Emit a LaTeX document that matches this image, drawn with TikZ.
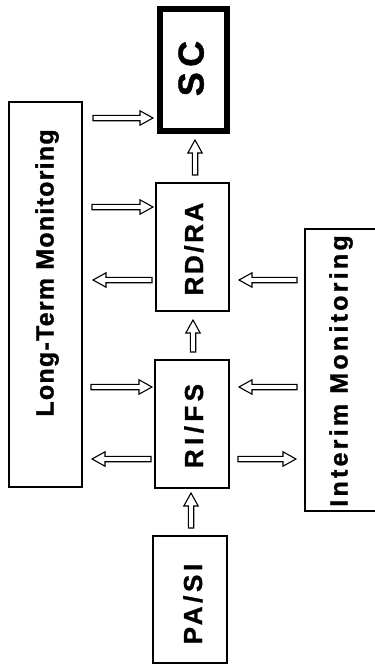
\documentclass[tikz,border=0pt]{standalone}
\usepackage{fontspec}
\setmainfont{Liberation Sans}
\usetikzlibrary{calc}
\newcommand\lsp[1]{\addfontfeatures{LetterSpace=#1,FakeBold=1.2}}
\tikzset{
  box/.style={draw, line width=1.2pt, inner sep=0pt, outer sep=0pt,
    minimum width=73pt, minimum height=128pt},
  lbl/.style={rotate=90, anchor=base, inner sep=0pt,
    font=\bfseries\fontsize{26}{26}\selectfont},
  harrow/.style={draw, line width=1.1pt, line join=miter,
    to path={let \p1=(\tikztostart), \p2=(\tikztotarget),
      \n1={atan2(\y2-\y1,\x2-\x1)}, \n2={veclen(\x2-\x1,\y2-\y1)} in
      {[shift={(\p1)}, rotate=\n1]
       (0,-2.7) -- ({\n2-13},-2.7) -- ({\n2-13},-7.2) -- (\n2,0)
       -- ({\n2-13},7.2) -- ({\n2-13},2.7) -- (0,2.7) -- cycle}}}
}
\begin{document}
\begin{tikzpicture}[x=1pt,y=-1pt]
\useasboundingbox[fill=white] (0,0) rectangle (375,667);
% boxes
\node[box, line width=6pt, minimum width=67pt, minimum height=122pt] (sc) at (193.5,70) {};
\node[box, minimum height=385pt] (lt) at (45.5,294.5) {};
\node[box] (rdra) at (192.5,247) {};
\node[box, minimum width=74pt] (rifs) at (192,424) {};
\node[box, minimum width=74pt, minimum height=127pt] (pasi) at (190,599.5) {};
\node[box, minimum height=282pt] (im) at (341.5,370) {};
% labels
\node[lbl, font=\bfseries\fontsize{36}{36}\selectfont] (sctxt) at (203.5,68.5) {\lsp{15}SC};
\node[lbl] (rdratxt) at (203,249) {\lsp{10}RD/RA};
\node[lbl] (rifstxt) at (203,426) {\lsp{17}RI/FS};
\node[lbl] (pasitxt) at (202,604) {\lsp{14}PA/SI};
\node[lbl, font=\bfseries\fontsize{25}{25}\selectfont] (lttxt) at (53.5,273) {\lsp{5}Long-Term Monitoring};
\node[lbl, font=\bfseries\fontsize{25}{25}\selectfont] (imtxt) at (347.5,371) {\lsp{13}Interim Monitoring};
% arrow rows
\coordinate (r1) at (0,118);
\coordinate (r2) at (0,207);
\coordinate (r3) at (0,280);
\coordinate (r4) at (0,387);
\coordinate (r5) at (0,459);
% horizontal arrows
\draw[harrow] ($(lt.east |- r1)+(11,0)$) to ($(sc.west |- r1)+(-7,0)$);
\draw[harrow] ($(lt.east |- r2)+(10,0)$) to ($(rdra.west |- r2)+(-3,0)$);
\draw[harrow] ($(rdra.west |- r3)+(-4,0)$) to ($(lt.east |- r3)+(11,0)$);
\draw[harrow] ($(im.west |- r3)+(-8,0)$) to ($(rdra.east |- r3)+(10,0)$);
\draw[harrow] ($(lt.east |- r4)+(9,0)$) to ($(rifs.west |- r4)+(-3,0)$);
\draw[harrow] ($(im.west |- r4)+(-8,0)$) to ($(rifs.east |- r4)+(10,0)$);
\draw[harrow] ($(rifs.west |- r5)+(-4,0)$) to ($(lt.east |- r5)+(10,0)$);
\draw[harrow] ($(rifs.east |- r5)+(9,0)$) to ($(im.west |- r5)+(-9,0)$);
% vertical arrows
\draw[harrow] ($(pasi.north)+(1,-8)$) to ($(rifs.south)+(-1,5)$);
\draw[harrow] ($(rifs.north)+(1,-8)$) to ($(rdra.south)+(0.5,9)$);
\draw[harrow] ($(rdra.north)+(2.5,-8)$) to ($(sc.south)+(1.5,9)$);
\end{tikzpicture}
\end{document}
